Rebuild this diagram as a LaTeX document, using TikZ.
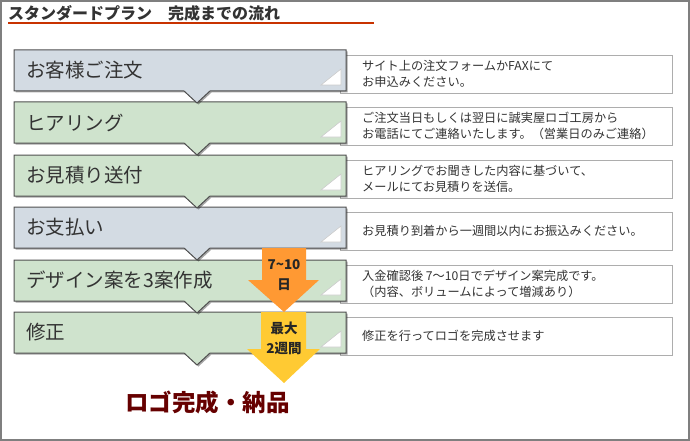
\documentclass[tikz,border=0pt]{standalone}
\usepackage{fontspec}
\setmainfont{Noto Sans CJK JP}
\usepackage{tikz}
\usepackage{xcolor}
\usetikzlibrary{shadows}
\definecolor{frame}{HTML}{7F7F7F}
\definecolor{titlered}{HTML}{C83200}
\definecolor{ink}{HTML}{333333}
\definecolor{stepblue}{HTML}{D3DBE3}
\definecolor{stepgreen}{HTML}{CFE3CD}
\definecolor{edge}{HTML}{505050}
\definecolor{note}{HTML}{ADADAD}
\definecolor{orangearr}{HTML}{FF9933}
\definecolor{yellowarr}{HTML}{FFCA33}
\definecolor{done}{HTML}{660000}

\begin{document}
\begin{tikzpicture}[x=1pt,y=-1pt,
  stepbox/.style={draw=edge,line width=1pt,drop shadow={shadow xshift=1.5pt,shadow yshift=-1.5pt,fill=black,opacity=0.35}},
  corner/.style={fill=white,draw=black!20,line width=0.6pt},
  notebox/.style={draw=note,line width=0.9pt,fill=white},
  steplabel/.style={anchor=west,inner sep=0pt,text=ink,font=\fontsize{19.5}{20}\selectfont},
  notetext/.style={anchor=west,inner sep=0pt,text=ink,align=left,font=\fontsize{12.2}{16}\selectfont},
  arrtext/.style={inner sep=0pt,text=black!85,align=center,font=\bfseries\fontsize{13.5}{20}\selectfont}]
\useasboundingbox (0,0) rectangle (690,441);
\draw[frame,line width=2pt] (1,1) rectangle (689,440);

% title
\node[anchor=west,inner sep=0pt,text=ink,font=\bfseries\fontsize{16}{16}\selectfont] (title) at (8,13) {スタンダードプラン　完成までの流れ};
\draw[titlered,line width=2pt] (8,23) -- (374,23);

% explanation boxes
\draw[notebox] (340,55) rectangle (672,93);
\draw[notebox] (340,107) rectangle (672,145);
\draw[notebox] (340,160) rectangle (672,198);
\draw[notebox] (340,212) rectangle (672,250);
\draw[notebox] (340,265) rectangle (672,303);
\draw[notebox] (340,317) rectangle (672,355);
\node[notetext] (d1) at (362,74) {サイト上の注文フォームかFAXにて\\お申込みください。};
\node[notetext] (d2) at (362,126) {ご注文当日もしくは翌日に誠実屋ロゴ工房から\\お電話にてご連絡いたします。（営業日のみご連絡）};
\node[notetext] (d3) at (362,179) {ヒアリングでお聞きした内容に基づいて、\\メールにてお見積りを送信。};
\node[notetext] (d4) at (362,231) {お見積り到着から一週間以内にお振込みください。};
\node[notetext] (d5) at (362,284) {入金確認後 7～10日でデザイン案完成です。\\（内容、ボリュームによって増減あり）};
\node[notetext] (d6) at (362,336) {修正を行ってロゴを完成させます};

% steps, last one first so each pointer lies on the next box
\draw[stepbox,fill=stepgreen] (14,312) -- (346,312) -- (346,353) -- (210,353) -- (197,365) -- (184,353) -- (14,353) -- cycle;
\draw[corner] (321,347) -- (341,347) -- (341,331) -- cycle;
\draw[stepbox,fill=stepgreen] (14,260) -- (346,260) -- (346,301) -- (210,301) -- (197,313) -- (184,301) -- (14,301) -- cycle;
\draw[corner] (321,295) -- (341,295) -- (341,279) -- cycle;
\draw[stepbox,fill=stepblue] (14,207) -- (346,207) -- (346,248) -- (210,248) -- (197,260) -- (184,248) -- (14,248) -- cycle;
\draw[corner] (321,242) -- (341,242) -- (341,226) -- cycle;
\draw[stepbox,fill=stepgreen] (14,155) -- (346,155) -- (346,196) -- (210,196) -- (197,208) -- (184,196) -- (14,196) -- cycle;
\draw[corner] (321,190) -- (341,190) -- (341,174) -- cycle;
\draw[stepbox,fill=stepgreen] (14,102) -- (346,102) -- (346,143) -- (210,143) -- (197,155) -- (184,143) -- (14,143) -- cycle;
\draw[corner] (321,137) -- (341,137) -- (341,121) -- cycle;
\draw[stepbox,fill=stepblue] (14,50) -- (346,50) -- (346,91) -- (210,91) -- (197,103) -- (184,91) -- (14,91) -- cycle;
\draw[corner] (321,85) -- (341,85) -- (341,69) -- cycle;
\node[steplabel] (s1) at (26,70.5) {お客様ご注文};
\node[steplabel] (s2) at (26,122.5) {ヒアリング};
\node[steplabel] (s3) at (26,175.5) {お見積り送付};
\node[steplabel] (s4) at (26,227.5) {お支払い};
\node[steplabel] (s5) at (26,280.5) {デザイン案を3案作成};
\node[steplabel] (s6) at (26,332.5) {修正};

% duration arrows
\fill[yellowarr] (261,312) -- (306,312) -- (306,349) -- (320,349) -- (284,383) -- (247,349) -- (261,349) -- cycle;
\fill[orangearr] (262,248) -- (306,248) -- (306,280) -- (319,280) -- (284,312) -- (248,280) -- (262,280) -- cycle;
\node[arrtext] (days) at (284,275.5) {7\textasciitilde10\\日};
\node[arrtext] (weeks) at (284,338.5) {最大\\2週間};

\node[inner sep=0pt,text=done,font=\bfseries\fontsize{23.5}{24}\selectfont] (finish) at (207.5,403) {ロゴ完成・納品};
\end{tikzpicture}
\end{document}
